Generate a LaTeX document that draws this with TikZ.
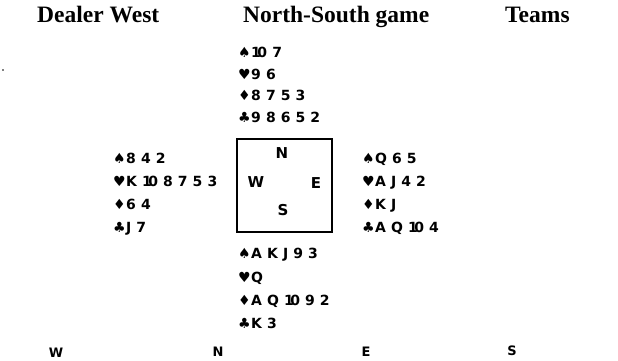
\documentclass[tikz,border=0pt]{standalone}
\usepackage{fontspec}
\setmainfont{Liberation Serif}
\newfontfamily\handfont[LetterSpace=36]{DejaVu Sans}
\newfontfamily\plainsans{DejaVu Sans}
\newfontfamily\suitfont{DejaVu Sans}
\newcommand\myspade{{\suitfont\char"2660}\kern0.5pt}
\newcommand\myheart{{\suitfont\char"2665}\kern0.5pt}
\newcommand\mydiam{{\suitfont\char"2666}\kern0.5pt}
\newcommand\myclub{{\suitfont\char"2663}\kern0.5pt}
\newcommand\ten{1\kern-3.5pt 0}
\tikzset{
  title/.style={anchor=base west, inner sep=0pt, font=\bfseries\fontsize{23.5}{28}\selectfont},
  hand/.style={anchor=base west, inner sep=0pt, font=\handfont\bfseries\fontsize{14}{16}\selectfont},
  compass/.style={inner sep=0pt, font=\plainsans\bfseries\fontsize{15}{17}\selectfont},
  seat/.style={anchor=north, inner sep=0pt, font=\plainsans\bfseries\fontsize{13}{15}\selectfont},
  tablebox/.style={draw, line width=1.6pt, minimum width=95pt, minimum height=93pt, inner sep=0pt}
}
\begin{document}
\begin{tikzpicture}[x=1pt,y=-1pt]
\useasboundingbox (0,0) rectangle (618,360);
% titles
\node[title] (t1) at (37,22) {Dealer West};
\node[title] (t2) at (243,22) {North-South game};
\node[title] (t3) at (505,22) {Teams};
% stray speck
\fill (3,70) circle (0.8);
% North
\node[hand] (n1) at (238,57.5) {\myspade\ten 7};
\node[hand] (n2) at (238,79) {\myheart 96};
\node[hand] (n3) at (238,100.5) {\mydiam 8753};
\node[hand] (n4) at (238,122) {\myclub 98652};
% West
\node[hand] (w1) at (113,163) {\myspade 842};
\node[hand] (w2) at (113,186) {\myheart K\ten 8753};
\node[hand] (w3) at (113,209) {\mydiam 64};
\node[hand] (w4) at (113,232) {\myclub J7};
% East
\node[hand] (e1) at (362,163) {\myspade Q65};
\node[hand] (e2) at (362,186) {\myheart AJ42};
\node[hand] (e3) at (362,209) {\mydiam KJ};
\node[hand] (e4) at (362,232) {\myclub AQ\ten 4};
% South
\node[hand] (s1) at (238,258.5) {\myspade AKJ93};
\node[hand] (s2) at (238,282) {\myheart Q};
\node[hand] (s3) at (238,305.5) {\mydiam AQ\ten 92};
\node[hand] (s4) at (238,328.5) {\myclub K3};
% compass box
\node[tablebox] (box) at (284.5,185.5) {};
\node[compass] (bn) at (282,153) {N};
\node[compass] (bw) at (256,182) {W};
\node[compass] (be) at (316,183) {E};
\node[compass] (bs) at (283,210) {S};
% seats at bottom
\node[seat] (sw) at (56,347.5) {W};
\node[seat] (sn) at (218,347) {N};
\node[seat] (se) at (366,347) {E};
\node[seat] (ss) at (512,346) {S};
\end{tikzpicture}
\end{document}
